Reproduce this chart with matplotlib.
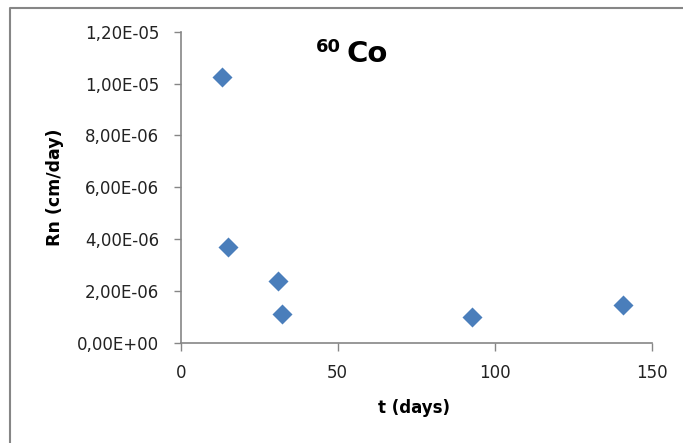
import matplotlib
matplotlib.use("Agg")
import matplotlib.pyplot as plt
from matplotlib.lines import Line2D
from matplotlib.ticker import FuncFormatter

# data
t_days = [13.1, 15.0, 31.1, 32.2, 92.9, 140.8]
rn = [1.027e-05, 3.71e-06, 2.39e-06, 1.11e-06, 0.99e-06, 1.45e-06]

y_ticks = [0, 2e-6, 4e-6, 6e-6, 8e-6, 1e-5, 1.2e-5]
x_ticks = [0, 50, 100, 150]

plt.rcParams['font.family'] = ['DejaVu Sans']

fig = plt.figure(figsize=(6.83, 4.43), dpi=100)
ax = fig.add_axes([0.2646, 0.2257, 0.954 - 0.2646, 0.9284 - 0.2257])

ax.scatter(t_days, rn, marker='D', s=10.2 ** 2, color='#4A7EBB', linewidths=0, zorder=3)

ax.set_xlim(0, 150)
ax.set_ylim(0, 1.2e-5)
ax.set_xticks(x_ticks)
ax.set_yticks(y_ticks)


def excel_sci(v, pos):
    s = '%.2E' % v
    return s.replace('.', ',')


ax.yaxis.set_major_formatter(FuncFormatter(excel_sci))

gray = '#868686'
for side in ['top', 'right']:
    ax.spines[side].set_visible(False)
for side in ['left', 'bottom']:
    ax.spines[side].set_color(gray)
    ax.spines[side].set_linewidth(1.2)

ax.tick_params(axis='y', direction='out', length=5, width=1, color=gray,
               labelsize=12, labelcolor='#222222', pad=10.5)
ax.tick_params(axis='x', direction='out', length=6, width=1, color=gray,
               labelsize=12, labelcolor='#222222', pad=9)

ax.set_xlabel('t (days)', fontsize=12, fontweight='bold', va='center')
ax.set_ylabel('Rn (cm/day)', fontsize=12.5, fontweight='bold', va='center')
ax.xaxis.set_label_coords(0.496, -0.209)
ax.yaxis.set_label_coords(-0.267, 0.5)

# title inside the plot area, 60 as superscript
fig.text(316 / 683, 1 - 38 / 443, '60', fontsize=13, fontweight='bold', ha='left', va='top')
fig.text(346 / 683, 1 - 62 / 443, 'Co', fontsize=21, fontweight='bold', ha='left', va='baseline')

# chart area border (only left and top edges are inside the image)
x0 = 10 / 683
y0 = 1 - 8 / 443
fig.lines.append(Line2D([x0, x0, 1.0], [0.0, y0, y0], transform=fig.transFigure,
                        color=gray, linewidth=1.5))

fig.savefig('out.png', dpi=100)
